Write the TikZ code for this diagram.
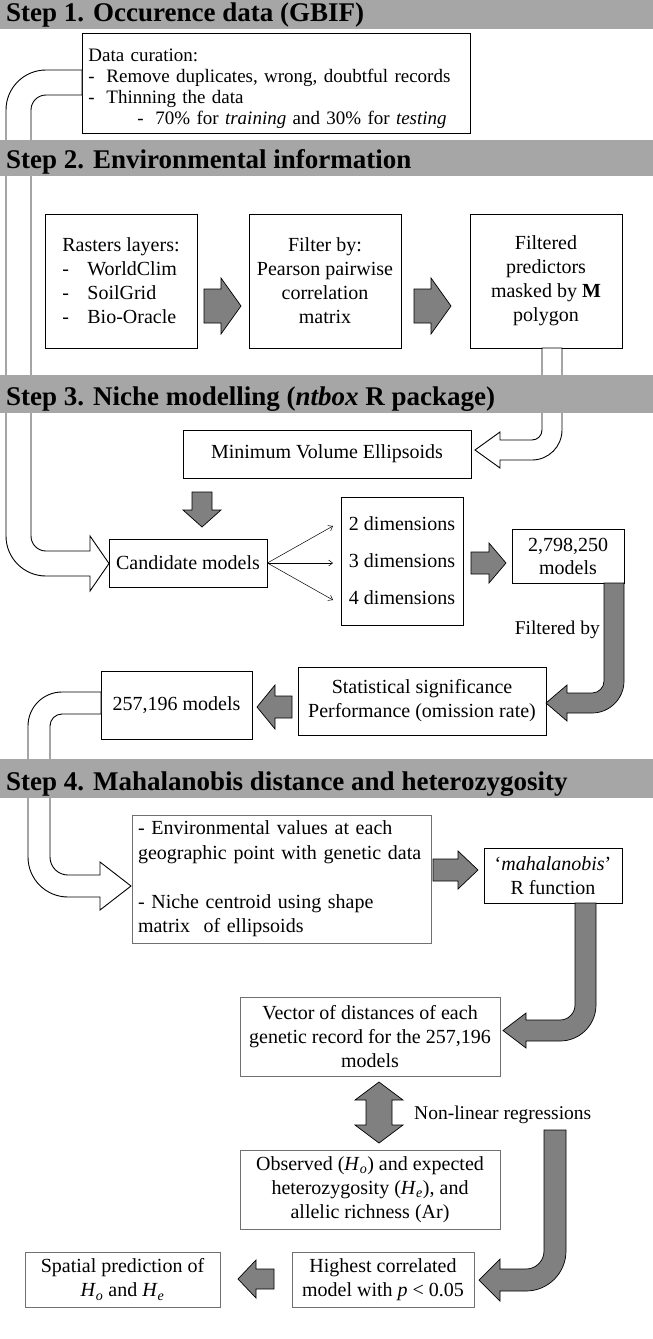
\documentclass[tikz,border=0pt]{standalone}
\usepackage{fontspec}
\setmainfont{Liberation Serif}
\usetikzlibrary{arrows.meta}
\definecolor{bargray}{HTML}{A6A6A6}
\definecolor{arrgray}{HTML}{808080}
\definecolor{boxgray}{HTML}{707070}
\begin{document}
\begin{tikzpicture}[x=1pt,y=-1pt,
  box/.style={draw=black, line width=0.8pt, rectangle, inner sep=0pt, align=center, font=\fontsize{20}{24}\selectfont},
  boxg/.style={box, draw=boxgray},
  garrow/.style={draw=black, fill=arrgray, line width=0.7pt, line join=miter},
  harrow/.style={draw=black, fill=white, line width=0.9pt, line join=miter},
  headtxt/.style={font=\fontsize{27}{30}\selectfont\bfseries, anchor=base west, inner sep=0pt},
  lbl/.style={font=\fontsize{19.5}{23}\selectfont, inner sep=0pt},
  thin/.style={line width=0.5pt, -{Straight Barb[length=4pt,width=6pt]}}]
\useasboundingbox (0,0) rectangle (653,1339);

% ---------- Step 1 ----------
\node[box, anchor=north west, minimum width=388, minimum height=100, text width=376, inner xsep=6pt, align=left, font=\fontsize{19}{21}\selectfont] (data) at (82,33)
 {\rule{0pt}{23pt}Data curation:\\
  \makebox[18pt][l]{-}Remove duplicates, wrong, doubtful records\\
  \makebox[18pt][l]{-}Thinning the data\\
  \hspace*{49pt}\makebox[18pt][l]{-}70\% for \textit{training} and 30\% for \textit{testing}};

% ---------- Step 2 ----------
\node[box, minimum width=152, minimum height=134, align=left] (raster) at (121,281)
 {Rasters layers:\\ \makebox[25pt][l]{-}WorldClim\\ \makebox[25pt][l]{-}SoilGrid\\ \makebox[25pt][l]{-}Bio-Oracle};
\node[box, minimum width=152, minimum height=134] (filter) at (325,281)
 {Filter by:\\Pearson pairwise\\correlation\\matrix};
\node[box, minimum width=152, minimum height=134] (fpred) at (546,281)
 {Filtered\\predictors\\masked by \textbf{M}\\polygon};
\draw[garrow] (204,289) -- (221,289) -- (221,278) -- (241,306) -- (221,334) -- (221,323) -- (204,323) -- cycle;
\draw[garrow] (414,289) -- (431,289) -- (431,278) -- (451,306) -- (431,334) -- (431,323) -- (414,323) -- cycle;

% ---------- Step 3 ----------
\node[box, minimum width=288, minimum height=48] (mve) at (327,454) {Minimum Volume Ellipsoids};
\node[box, minimum width=158, minimum height=48] (cand) at (188,563) {Candidate models};
\node[box, minimum width=122, minimum height=128] (dims) at (402,561)
 {2 dimensions\\[13pt]3 dimensions\\[13pt]4 dimensions};
\node[box, minimum width=112, minimum height=54, font=\fontsize{20}{23}\selectfont] (m2798) at (568,556) {2,798,250\\models};
\node[box, minimum width=248, minimum height=68] (stat) at (422,701)
 {Statistical significance\\Performance (omission rate)};
\node[box, minimum width=151, minimum height=68] (m257) at (176.5,705) {257,196 models};
\node[lbl, anchor=east] (filt) at (600,630) {Filtered by};

\coordinate (d2) at (333,526);
\coordinate (d3) at (333,563);
\coordinate (d4) at (333,600);
\draw[thin] (cand.east) -- (d2);
\draw[thin] (cand.east) -- (d3);
\draw[thin] (cand.east) -- (d4);

\draw[garrow] (192,492) -- (212,492) -- (212,510) -- (221,510) -- (202,527) -- (183,510) -- (192,510) -- cycle;
\draw[garrow] (471,552) -- (489,552) -- (489,543) -- (506,563) -- (489,583) -- (489,574) -- (471,574) -- cycle;
\draw[garrow] (604,583) -- (604,681) arc[start angle=0,end angle=90,radius=12] -- (567,693) -- (567,685) -- (546,703) -- (567,721) -- (567,713) -- (592,713) arc[start angle=90,end angle=0,radius=32] -- (624,583) -- cycle;
\draw[garrow] (292,696) -- (275,696) -- (275,685) -- (257,707) -- (275,729) -- (275,718) -- (292,718) -- cycle;

% ---------- Step 4 ----------
\node[boxg, minimum width=299, minimum height=128, text width=287, inner xsep=6pt, align=left, font=\fontsize{20}{24.5}\selectfont] (env) at (281.5,879)
 {- Environmental values at each\\geographic point with genetic data\\[24.5pt]- Niche centroid using shape\\matrix\ \ of ellipsoids};
\node[box, minimum width=138, minimum height=55] (mahal) at (553,875.5) {`\textit{mahalanobis}'\\R function};
\node[boxg, minimum width=260, minimum height=79] (vec) at (370,1036.5)
 {Vector of distances of each\\genetic record for the 257,196\\models};
\node[boxg, minimum width=260, minimum height=79] (obs) at (370,1189.5)
 {Observed (\textit{H}\textsubscript{\textit{o}}) and expected\\heterozygosity (\textit{H}\textsubscript{\textit{e}}), and\\allelic richness (Ar)};
\node[boxg, minimum width=182, minimum height=55] (high) at (383,1279.5)
 {Highest correlated\\model with \textit{p} < 0.05};
\node[boxg, minimum width=195, minimum height=55] (spat) at (122.5,1279.5)
 {Spatial prediction of\\\textit{H}\textsubscript{\textit{o}} and \textit{H}\textsubscript{\textit{e}}};
\node[lbl, anchor=west] (nlr) at (414,1115) {Non-linear regressions};

\draw[garrow] (433,859) -- (458,859) -- (458,851) -- (478,870) -- (458,889) -- (458,881) -- (433,881) -- cycle;
\draw[garrow] (575,903) -- (575,1005) arc[start angle=0,end angle=90,radius=15] -- (526,1020) -- (526,1013) -- (503,1030.5) -- (526,1048) -- (526,1041) -- (560,1041) arc[start angle=90,end angle=0,radius=36] -- (596,903) -- cycle;
\draw[garrow] (379,1082) -- (403,1100) -- (392,1100) -- (392,1125) -- (403,1125) -- (379,1143) -- (355,1125) -- (366,1125) -- (366,1100) -- (355,1100) -- cycle;
\draw[garrow] (544,1130) -- (544,1251) arc[start angle=0,end angle=90,radius=18] -- (500,1269) -- (500,1259) -- (479,1280) -- (500,1301) -- (500,1291) -- (526,1291) arc[start angle=90,end angle=0,radius=40] -- (566,1130) -- cycle;
\draw[garrow] (274,1269) -- (256,1269) -- (256,1260) -- (238,1279) -- (256,1298) -- (256,1289) -- (274,1289) -- cycle;

% ---------- hollow arrows ----------
\draw[harrow] (82,70) -- (46,70) arc[start angle=270,end angle=180,radius=40] -- (6,536) arc[start angle=180,end angle=90,radius=40] -- (90,576) -- (90,591) -- (109,563.5) -- (90,536) -- (90,551) -- (46,551) arc[start angle=90,end angle=180,radius=15] -- (31,110) arc[start angle=180,end angle=270,radius=15] -- (82,95) -- cycle;
\draw[harrow] (542,348) -- (542,430) arc[start angle=0,end angle=90,radius=10] -- (500,440) -- (500,432) -- (475,450) -- (500,468) -- (500,460) -- (532,460) arc[start angle=90,end angle=0,radius=30] -- (562,348) -- cycle;
\draw[harrow] (101,692) -- (62,692) arc[start angle=270,end angle=180,radius=34] -- (28,857) arc[start angle=180,end angle=90,radius=40] -- (100,897) -- (100,910) -- (131,886) -- (100,862) -- (100,875) -- (68,875) arc[start angle=90,end angle=180,radius=18] -- (50,726) arc[start angle=180,end angle=270,radius=12] -- (101,714) -- cycle;

% ---------- step bars ----------
\fill[bargray] (0,0) rectangle (653,29);
\fill[bargray] (0,140) rectangle (653,176);
\fill[bargray] (0,375) rectangle (653,413);
\fill[bargray] (0,759) rectangle (653,798);
\node[headtxt] (s1) at (6,21) {Step 1. Occurence data (GBIF)};
\node[headtxt] (s2) at (6,168) {Step 2. Environmental information};
\node[headtxt] (s3) at (6,405) {Step 3. Niche modelling (\textit{ntbox} R package)};
\node[headtxt] (s4) at (6,790) {Step 4. Mahalanobis distance and heterozygosity};
\end{tikzpicture}
\end{document}
